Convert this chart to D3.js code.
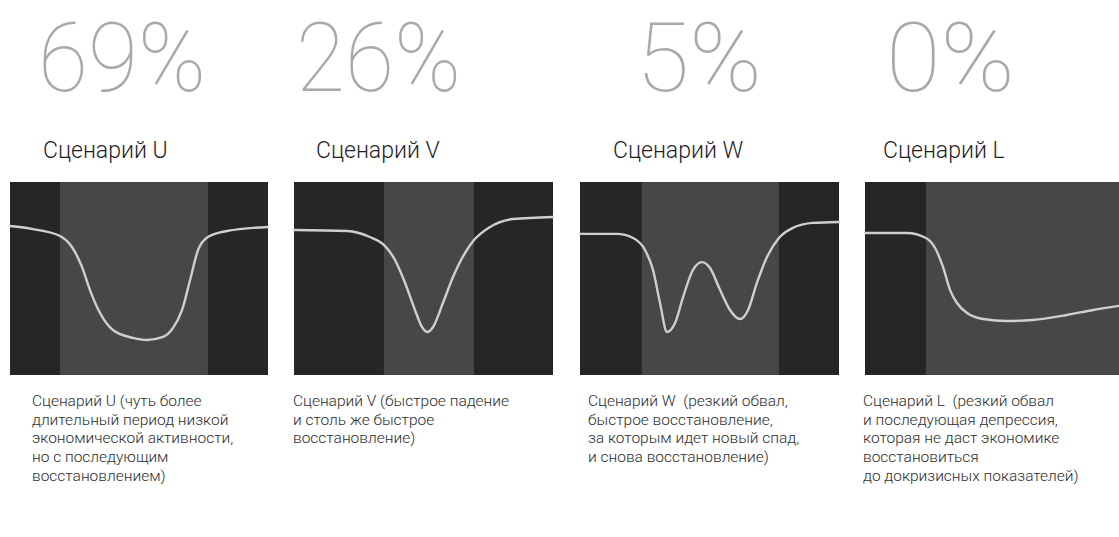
<!DOCTYPE html>
<html>
<head>
<meta charset="utf-8">
<script src="https://cdn.jsdelivr.net/npm/d3@7"></script>
<style>
  html, body { margin: 0; padding: 0; background: #ffffff; }
  svg { display: block; }
  text { white-space: pre; }
</style>
</head>
<body>
<svg id="chart" width="1119" height="537"></svg>
<script>
// Recovery scenarios: share of votes, and a schematic activity curve for each.
const scenarios = ["U", "V", "W", "L"];
const shares = [69, 26, 5, 0];
const titles = ["Сценарий U", "Сценарий V", "Сценарий W", "Сценарий L"];
const descriptions = [
  ["Сценарий U (чуть более", "длительный период низкой", "экономической активности,", "но с последующим", "восстановлением)"],
  ["Сценарий V (быстрое падение", "и столь же быстрое", "восстановление)"],
  ["Сценарий W  (резкий обвал,", "быстрое восстановление,", "за которым идет новый спад,", "и снова восстановление)"],
  ["Сценарий L  (резкий обвал", "и последующая депрессия,", "которая не даст экономике", "восстановиться", "до докризисных показателей)"]
];

// Crisis period on the time axis (0–100) for each scenario
const crisisStart = [19.4, 34.7, 23.9, 24.0];
const crisisEnd   = [76.7, 69.5, 76.8, 100];

// Time (0–100) and activity level (0–100) for each curve
const timeU  = [0, 8.9, 19.4, 24.0, 27.9, 31.0, 34.9, 39.9, 47.7, 53.1, 59.3, 63.2, 66.7, 69.8, 72.9, 76.7, 84.1, 100];
const levelU = [77.2, 75.6, 72.0, 66.3, 56.0, 44.0, 32.1, 23.3, 19.2, 18.1, 19.7, 24.4, 33.7, 49.2, 64.8, 71.5, 74.6, 76.7];

const timeV  = [0, 20.5, 29.3, 34.7, 39.0, 42.9, 46.7, 49.4, 51.4, 53.7, 57.5, 61.4, 66.0, 69.5, 75.7, 84.6, 100];
const levelV = [75.1, 74.6, 71.5, 67.4, 59.6, 47.7, 33.7, 24.9, 22.3, 24.9, 37.3, 50.8, 63.2, 69.9, 76.7, 80.8, 81.9];

const timeW  = [0, 14.3, 20.5, 25.1, 28.2, 30.9, 33.6, 36.7, 39.8, 43.6, 47.1, 50.2, 54.1, 57.9, 61.8, 64.9, 68.3, 72.2, 76.8, 82.2, 89.9, 100];
const levelW = [73.1, 73.1, 71.0, 64.8, 54.4, 37.3, 22.3, 26.9, 40.4, 54.4, 58.5, 55.4, 44.0, 33.7, 29.0, 33.7, 47.7, 61.1, 71.0, 76.2, 78.8, 79.3];

const timeL  = [0, 16.5, 24.0, 27.6, 30.7, 33.5, 36.2, 40.2, 46.5, 55.9, 66.1, 79.5, 89.8, 100];
const levelL = [73.6, 73.6, 71.0, 65.8, 56.0, 44.0, 37.3, 32.1, 29.0, 28.0, 28.5, 31.1, 33.7, 35.8];

const times  = [timeU, timeV, timeW, timeL];
const levels = [levelU, levelV, levelW, levelL];

// Layout
const panelLeft  = [10, 294, 580, 865];
const panelWidth = [258, 259, 259, 254];
const panelTop = 182, panelHeight = 193;
const shareX = [38, 296, 636, 886];
const shareWidth = [168, 165, 126, 129];
const titleX = [43, 316, 613, 883];
const descX  = [32, 293, 588, 863];

const svg = d3.select("#chart");

scenarios.forEach((s, i) => {
  const g = svg.append("g").attr("transform", `translate(${panelLeft[i]},${panelTop})`);
  const x = d3.scaleLinear().domain([0, 100]).range([0, panelWidth[i]]);
  const y = d3.scaleLinear().domain([0, 100]).range([panelHeight, 0]);

  // background and crisis band
  g.append("rect").attr("x", 0).attr("y", 0)
    .attr("width", panelWidth[i]).attr("height", panelHeight).attr("fill", "#262626");
  g.append("rect").attr("x", x(crisisStart[i])).attr("y", 0)
    .attr("width", x(crisisEnd[i]) - x(crisisStart[i])).attr("height", panelHeight)
    .attr("fill", "#474747");

  const pts = times[i].map((t, k) => [t, levels[i][k]]);
  const line = d3.line().x(d => x(d[0])).y(d => y(d[1])).curve(d3.curveMonotoneX);
  g.append("path").datum(pts).attr("d", line)
    .attr("fill", "none").attr("stroke", "#cfcfcf").attr("stroke-width", 2.4)
    .attr("stroke-linecap", "round");

  // big share figure
  svg.append("text")
    .attr("x", shareX[i]).attr("y", 91)
    .attr("font-family", "Roboto, 'Open Sans', sans-serif")
    .attr("font-weight", 100)
    .attr("font-size", 96)
    .attr("fill", "#a9a9a9")
    .attr("textLength", shareWidth[i])
    .attr("lengthAdjust", "spacingAndGlyphs")
    .text(shares[i] + "%");

  svg.append("text")
    .attr("x", titleX[i]).attr("y", 158)
    .attr("font-family", "Roboto, 'Open Sans', sans-serif")
    .attr("font-weight", 300)
    .attr("font-size", 23)
    .attr("fill", "#1f1f1f")
    .text(titles[i]);

  const desc = svg.append("text")
    .attr("font-family", "Roboto, 'Open Sans', sans-serif")
    .attr("font-weight", 300)
    .attr("font-size", 15.5)
    .attr("fill", "#2e2e2e");
  descriptions[i].forEach((ln, k) => {
    desc.append("tspan").attr("x", descX[i]).attr("y", 406 + k * 18.7).text(ln);
  });
});
</script>
</body>
</html>
